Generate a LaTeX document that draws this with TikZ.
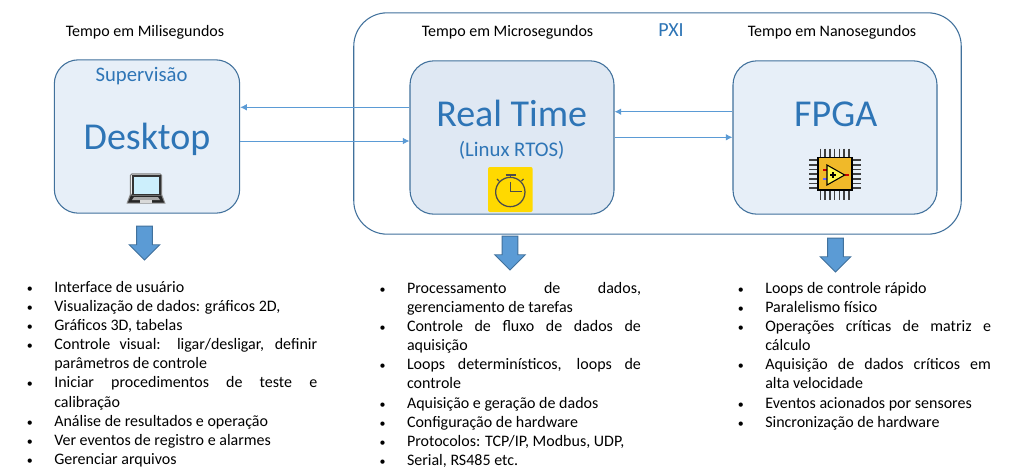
\documentclass[tikz,border=0pt]{standalone}
\usepackage{fontspec}
\setmainfont{Carlito}
\usetikzlibrary{arrows.meta, shapes.arrows}
\definecolor{boxline}{HTML}{41719C}
\definecolor{titleblue}{HTML}{2E75B6}
\definecolor{arrowblue}{HTML}{5B9BD5}
\definecolor{panelfill}{HTML}{E7EFF8}
\definecolor{rtfill}{HTML}{DFE8F3}
\definecolor{chipfill}{HTML}{F0B929}
\definecolor{watchfill}{HTML}{FFD900}
\tikzset{
        x=0.75pt, y=-0.75pt,
        panel/.style={rectangle, rounded corners=18pt, draw=boxline, line width=0.8pt, fill=panelfill, inner sep=0pt, minimum height=115pt},
        outerbox/.style={rectangle, rounded corners=25pt, draw=boxline, line width=0.8pt, inner sep=0pt, minimum width=455.6pt, minimum height=166pt},
        heading/.style={font=\fontsize{12}{14}\selectfont, text=black, inner sep=0pt},
        title/.style={text=titleblue, inner sep=0pt, font=\fontsize{28.5}{32}\selectfont},
        subtitle/.style={text=titleblue, inner sep=0pt, font=\fontsize{#1}{18}\selectfont},
        link/.style={draw=arrowblue, line width=0.75pt, -{Latex[length=5pt,width=5pt]}},
        blockarrow/.style={single arrow, shape border rotate=270, anchor=tip, draw=boxline, fill=arrowblue, line width=0.7pt,
          inner xsep=5.6pt, inner ysep=0pt, single arrow head extend=5.5pt, minimum height=25.5pt},
        bullets/.style={anchor=north west, inner sep=0pt, align=justify, font=\fontsize{12}{14.33}\selectfont}
          }
\newenvironment{tasklist}{\begin{list}{\fontsize{9}{9}\selectfont\textbullet}{\setlength{\leftmargin}{20.5pt}\setlength{\labelwidth}{20.5pt}\setlength{\labelsep}{0pt}\setlength{\itemsep}{0pt}\setlength{\parsep}{0pt}\setlength{\topsep}{0pt}\setlength{\partopsep}{0pt}\renewcommand{\makelabel}[1]{##1\hfil}}\sloppy}{\end{list}}

\begin{document}
\begin{tikzpicture}
        \useasboundingbox (0,0) rectangle (1013,475);
        \fill[white] (0,0) rectangle (1013,475);
        % boxes
        \node[outerbox] (pxi) at (657.5,123.5) {};
        \node[panel, minimum width=139pt] (desk) at (147,136.5) {};
        \node[panel, minimum width=153pt, fill=rtfill] (rt) at (512,137.5) {};
        \node[panel, minimum width=153pt] (fpga) at (835,137.5) {};
        % texts
        \node[heading] (headdesk) at (145,32) {Tempo em Milisegundos};
        \node[heading] (headrt) at (507.5,32) {Tempo em Microsegundos};
        \node[heading] (headfpga) at (832,32) {Tempo em Nanosegundos};
        \node[subtitle=15] (pxilabel) at (671,30.5) {PXI};
        \node[subtitle=15.5] (super) at (141.5,76) {Supervisão};
        \node[title] (desklabel) at (147,139) {Desktop};
        \node[title] (rtlabel) at (511.7,113.5) {Real Time};
        \node[subtitle=15.6] (rtos) at (511.7,150) {(Linux RTOS)};
        \node[title] (fpgalabel) at (835.7,114) {FPGA};
        % links
        \coordinate (deskback) at (0,107.3);
        \coordinate (deskout) at (0,141);
        \coordinate (fpgaback) at (0,111.7);
        \coordinate (fpgaout) at (0,137.3);
        \draw[link] (rt.west |- deskback) -- (desk.east |- deskback);
        \draw[link] (desk.east |- deskout) -- (rt.west |- deskout);
        \draw[link] (fpga.west |- fpgaback) -- (rt.east |- fpgaback);
        \draw[link] (rt.east |- fpgaout) -- (fpga.west |- fpgaout);
        % block arrows
        \node[blockarrow] (downdesk) at (144.5,260.7) {};
        \node[blockarrow] (downrt) at (510,270.7) {};
        \node[blockarrow] (downfpga) at (835.5,272.7) {};
        % laptop
        \fill[black!45] (126.5,203.5) -- (130,194) -- (162,194) -- (165.5,203.5) -- cycle;
        \fill[black!85] (128,202.5) -- (131,195) -- (161,195) -- (164,202.5) -- cycle;
        \fill[black!35] (134,197) -- (158,197) -- (160,200) -- (132,200) -- cycle;
        \fill[black!15] (140,200) rectangle (152,202.5);
        \draw[black!50, fill=white, line width=0.8pt, rounded corners=1pt] (130.5,174) rectangle (161.5,195);
        \fill[black!80] (131.5,175) rectangle (160.5,195);
        \fill[cyan!20!white] (133.5,177) rectangle (158.5,193.5);
        % stopwatch
        \fill[watchfill, rounded corners=1.5pt] (488,167) rectangle (532.7,212);
        \begin{scope}[draw=black!70, line width=0.95pt]
          \draw (510.3,192) circle (11pt);
          \draw (510.5,182) -- (510.5,191.5) -- (522,191.5);
          \draw (510.3,177) -- (510.3,175);
          \draw[line width=1.6pt] (505.5,175) -- (515.5,175);
          \draw (499,181) -- (497,179);
          \draw (521.5,181) -- (523.5,179);
        \end{scope}
        % chip
        \foreach \k in {0,...,6} {
          \draw[black!75, line width=1.2pt] (820.5+4.7*\k,148.5) -- (820.5+4.7*\k,199.5);
          \draw[black!75, line width=1.2pt] (809,160+4.7*\k) -- (861,160+4.7*\k);
        }
        \draw[black, fill=chipfill, line width=0.8pt] (818,157.7) rectangle (852,190);
        \draw[red!80!black, line width=0.9pt] (823,170) -- (827,170) (845,175) -- (848.5,175);
        \draw[blue!60!white, line width=0.9pt] (823,179) -- (827,179);
        \draw[black, fill=yellow!70!white, line width=0.8pt] (827,165) -- (844.7,175) -- (827,185) -- cycle;
        \draw[black, line width=1.1pt] (830,175) -- (836,175) (833,172) -- (833,178);
        % lists
        \node[bullets, text width=217.7pt] (listdesk) at (26.7,273) {\begin{tasklist}
          \item Interface de usuário
          \item Visualização de dados: gráficos 2D,
          \item Gráficos 3D, tabelas
          \item Controle visual: ligar/desligar, definir\linebreak parâmetros de controle
          \item Iniciar procedimentos de teste e\linebreak calibração
          \item Análise de resultados e operação
          \item Ver eventos de registro e alarmes
          \item Gerenciar arquivos
        \end{tasklist}};
        \node[bullets, text width=196pt] (listrt) at (379.4,274) {\begin{tasklist}
          \item Processamento de dados,\linebreak gerenciamento de tarefas
          \item Controle de fluxo de dados de\linebreak aquisição
          \item Loops determinísticos, loops de\linebreak controle
          \item Aquisição e geração de dados
          \item Configuração de hardware
          \item Protocolos: TCP/IP, Modbus, UDP,
          \item Serial, RS485 etc.
        \end{tasklist}};
        \node[bullets, text width=189.75pt] (listfpga) at (737.7,274) {\begin{tasklist}
          \item Loops de controle rápido
          \item Paralelismo físico
          \item Operações críticas de matriz e\linebreak cálculo
          \item Aquisição de dados críticos em\linebreak alta velocidade
          \item Eventos acionados por sensores
          \item Sincronização de hardware
        \end{tasklist}};
\end{tikzpicture}
\end{document}
